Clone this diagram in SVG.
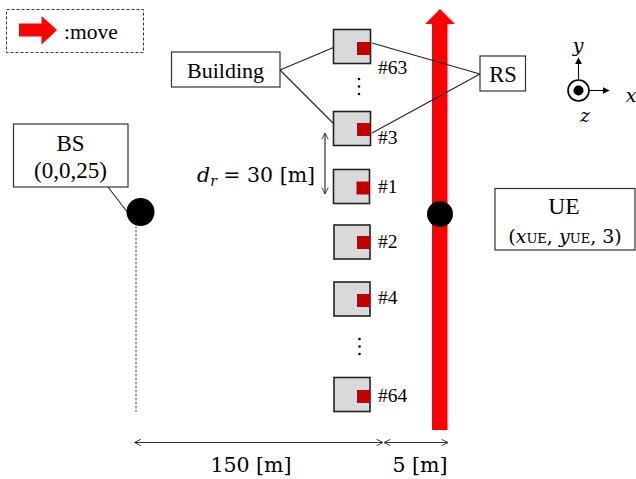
<svg xmlns="http://www.w3.org/2000/svg" width="636" height="479" viewBox="0 0 636 479">
  <defs>
    <style>
      .t { font-family: "Liberation Serif", "Times New Roman", serif; fill: #000; }
      .m { font-family: "DejaVu Serif", "Liberation Serif", serif; fill: #000; }
      .box { fill: #fff; stroke: #333; stroke-width: 1.2; }
      .bld { fill: #d9d9d9; stroke: #222; stroke-width: 1.6; }
      .win { fill: #c00000; }
      .ln { stroke: #222; stroke-width: 1.1; fill: none; }
      .dim { stroke: #333; stroke-width: 1.2; fill: none; }
      .num { font-size: 19.5px; }
    </style>
    <marker id="open" viewBox="0 0 10 10" refX="9" refY="5" markerWidth="8" markerHeight="8" orient="auto-start-reverse" markerUnits="userSpaceOnUse">
      <path d="M1,1 L9,5 L1,9" fill="none" stroke="#333" stroke-width="1.2"/>
    </marker>
    <marker id="tri" viewBox="0 0 10 10" refX="9" refY="5" markerWidth="7" markerHeight="7" orient="auto" markerUnits="userSpaceOnUse">
      <path d="M0,0 L10,5 L0,10 Z" fill="#000"/>
    </marker>
  </defs>

  <!-- legend -->
  <g id="legend">
    <rect x="6.5" y="9.5" width="137" height="43" fill="#fff" stroke="#333" stroke-width="1" stroke-dasharray="3,2"/>
    <polygon points="19,23.5 41.5,23.5 41.5,16 57,30 41.5,44.5 41.5,36.5 19,36.5" fill="#ff0000"/>
    <text class="t" x="64" y="38.5" font-size="21.5">:move</text>
  </g>

  <!-- main movement arrow -->
  <g id="route">
    <polygon points="432,430 432,24 425,24 440,9 455,24 447.5,24 447.5,430" fill="#ff0000"/>
  </g>

  <!-- connectors -->
  <g id="connectors">
    <line class="ln" x1="280" y1="70" x2="343" y2="43.5"/>
    <line class="ln" x1="280" y1="70" x2="340.5" y2="130.5"/>
    <line class="ln" x1="480" y1="74" x2="372" y2="43"/>
    <line class="ln" x1="480" y1="74" x2="372" y2="133"/>
    <line class="ln" x1="108" y1="187" x2="128" y2="213"/>
    <line x1="136" y1="226" x2="136" y2="412" stroke="#444" stroke-width="1" stroke-dasharray="2.5,1.5"/>
  </g>

  <!-- buildings -->
  <g id="bld63">
    <rect class="bld" x="333.5" y="29.5" width="37" height="34"/>
    <rect class="win" x="357" y="42" width="13" height="13"/>
    <text class="t num" x="378" y="74">#63</text>
  </g>
  <g id="dots-top" fill="#000">
    <circle cx="359" cy="79" r="1.3"/>
    <circle cx="359" cy="86.5" r="1.3"/>
    <circle cx="359" cy="94" r="1.3"/>
  </g>
  <g id="bld3">
    <rect class="bld" x="333.5" y="111.5" width="37" height="34"/>
    <rect class="win" x="357" y="123" width="13" height="13"/>
    <text class="t num" x="378" y="144">#3</text>
  </g>
  <g id="bld1">
    <rect class="bld" x="333.5" y="169.5" width="36" height="34"/>
    <rect class="win" x="356.5" y="181.5" width="13" height="13"/>
    <text class="t num" x="378" y="193">#1</text>
  </g>
  <g id="bld2">
    <rect class="bld" x="334" y="225" width="36" height="34"/>
    <rect class="win" x="357" y="236" width="13" height="13"/>
    <text class="t num" x="378" y="248">#2</text>
  </g>
  <g id="bld4">
    <rect class="bld" x="334" y="282" width="36" height="34"/>
    <rect class="win" x="357" y="294" width="13" height="13"/>
    <text class="t num" x="378" y="304">#4</text>
  </g>
  <g id="dots-bottom" fill="#000">
    <circle cx="359.5" cy="339" r="1.3"/>
    <circle cx="359.5" cy="346.5" r="1.3"/>
    <circle cx="359.5" cy="354" r="1.3"/>
  </g>
  <g id="bld64">
    <rect class="bld" x="334" y="377.5" width="36" height="34"/>
    <rect class="win" x="357" y="390" width="13" height="13"/>
    <text class="t num" x="378" y="402">#64</text>
  </g>

  <!-- labels -->
  <g id="building-label">
    <rect class="box" x="171.5" y="52" width="108.5" height="35"/>
    <text class="t" x="225.5" y="77.5" font-size="22" text-anchor="middle">Building</text>
  </g>
  <g id="rs">
    <rect class="box" x="480" y="56" width="45.5" height="35"/>
    <text class="t" x="503" y="81.5" font-size="22.5" text-anchor="middle">RS</text>
  </g>
  <g id="bs">
    <rect class="box" x="13.5" y="124" width="114.5" height="63"/>
    <text class="t" x="70.5" y="150.5" font-size="23" text-anchor="middle">BS</text>
    <text class="t" x="70.5" y="178" font-size="23" text-anchor="middle">(0,0,25)</text>
    <circle cx="140.5" cy="212" r="14" fill="#000"/>
  </g>
  <g id="ue">
    <rect class="box" x="495" y="188.5" width="140" height="61.5"/>
    <text class="t" x="564" y="214" font-size="23.5" text-anchor="middle">UE</text>
    <text class="m" x="565" y="243" font-size="19" text-anchor="middle">(<tspan font-style="italic">x</tspan><tspan font-size="13">UE</tspan>, <tspan font-style="italic">y</tspan><tspan font-size="13">UE</tspan>, 3)</text>
    <circle cx="440" cy="214" r="13" fill="#000"/>
  </g>

  <!-- axes -->
  <g id="axes">
    <circle cx="578.5" cy="90.5" r="10.5" fill="#fff" stroke="#000" stroke-width="1.6"/>
    <circle cx="578.5" cy="90.5" r="5" fill="#000"/>
    <line x1="578.5" y1="80" x2="578.5" y2="58" stroke="#000" stroke-width="1" marker-end="url(#tri)"/>
    <line x1="589" y1="90.5" x2="609" y2="90.5" stroke="#000" stroke-width="1" marker-end="url(#tri)"/>
    <text class="m" x="578" y="52" font-size="19" font-style="italic" text-anchor="middle">y</text>
    <text class="m" x="631" y="102" font-size="19" font-style="italic" text-anchor="middle">x</text>
    <text class="m" x="585" y="122" font-size="19" font-style="italic" text-anchor="middle">z</text>
  </g>

  <!-- dimensions -->
  <g id="dims">
    <line class="dim" x1="325" y1="133" x2="325" y2="194" marker-start="url(#open)" marker-end="url(#open)"/>
    <text class="m" x="197" y="182" font-size="20.5"><tspan font-style="italic">d</tspan><tspan font-size="14" font-style="italic" dy="4">r</tspan><tspan dy="-4"> = 30 [m]</tspan></text>
    <line class="dim" x1="134.5" y1="442.5" x2="383" y2="442.5" marker-start="url(#open)" marker-end="url(#open)"/>
    <line class="dim" x1="384" y1="442.5" x2="448" y2="442.5" marker-start="url(#open)" marker-end="url(#open)"/>
    <text class="m" x="251" y="472" font-size="20.5" text-anchor="middle">150 [m]</text>
    <text class="m" x="420" y="472" font-size="20.5" text-anchor="middle">5 [m]</text>
  </g>
</svg>
